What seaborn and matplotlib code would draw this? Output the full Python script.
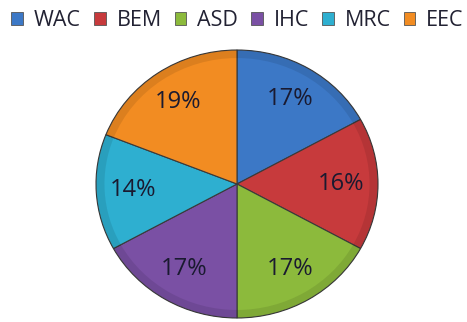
import matplotlib
matplotlib.use("Agg")
import matplotlib.pyplot as plt
import seaborn as sns
from matplotlib.patches import Patch

sns.set_theme(style="white")
plt.rcParams['font.family'] = ['Open Sans', 'DejaVu Sans']

categories = ["WAC", "BEM", "ASD", "IHC", "MRC", "EEC"]
shares = [17, 16, 17, 17, 14, 19]
colors = ["#3C78C6", "#C73A3C", "#8CBA3C", "#7A50A4", "#2EAFD0", "#F28C22"]

W, H = 467, 322
fig = plt.figure(figsize=(W / 100, H / 100), dpi=100)
fig.patch.set_facecolor("white")

cx, cy, rx, ry = 237, 138, 141, 134
ax = fig.add_axes([(cx - rx) / W, (cy - ry) / H, 2 * rx / W, 2 * ry / H])

wedges, texts, autotexts = ax.pie(
    shares, colors=colors, startangle=90, counterclock=False,
    autopct=lambda p: f"{p:.0f}%", pctdistance=0.74, radius=1.0,
    wedgeprops=dict(edgecolor="#3a3a3a", linewidth=0.8),
    textprops=dict(fontsize=17, color="#1a1a30"),
)
# soft darker rim on each slice
ax.pie(
    shares, colors=["none"] * len(shares), startangle=90, counterclock=False,
    radius=1.0, wedgeprops=dict(width=0.06, facecolor=(0, 0, 0, 0.09), edgecolor="none"),
)
ax.set_aspect("auto")
ax.set_xlim(-1, 1)
ax.set_ylim(-1, 1)
ax.axis("off")

handles = [Patch(facecolor=c, edgecolor="#555555", linewidth=0.6) for c in colors]
fig.legend(
    handles, categories, loc="center", bbox_to_anchor=(0.5 + 4 / W, 1 - 21 / H), ncol=6,
    frameon=False, fontsize=15.5, handlelength=0.55, handleheight=0.55,
    handletextpad=0.5, columnspacing=0.6, labelcolor="#222233",
    borderpad=0, borderaxespad=0,
)

fig.savefig("out.png", dpi=100, facecolor="white")
